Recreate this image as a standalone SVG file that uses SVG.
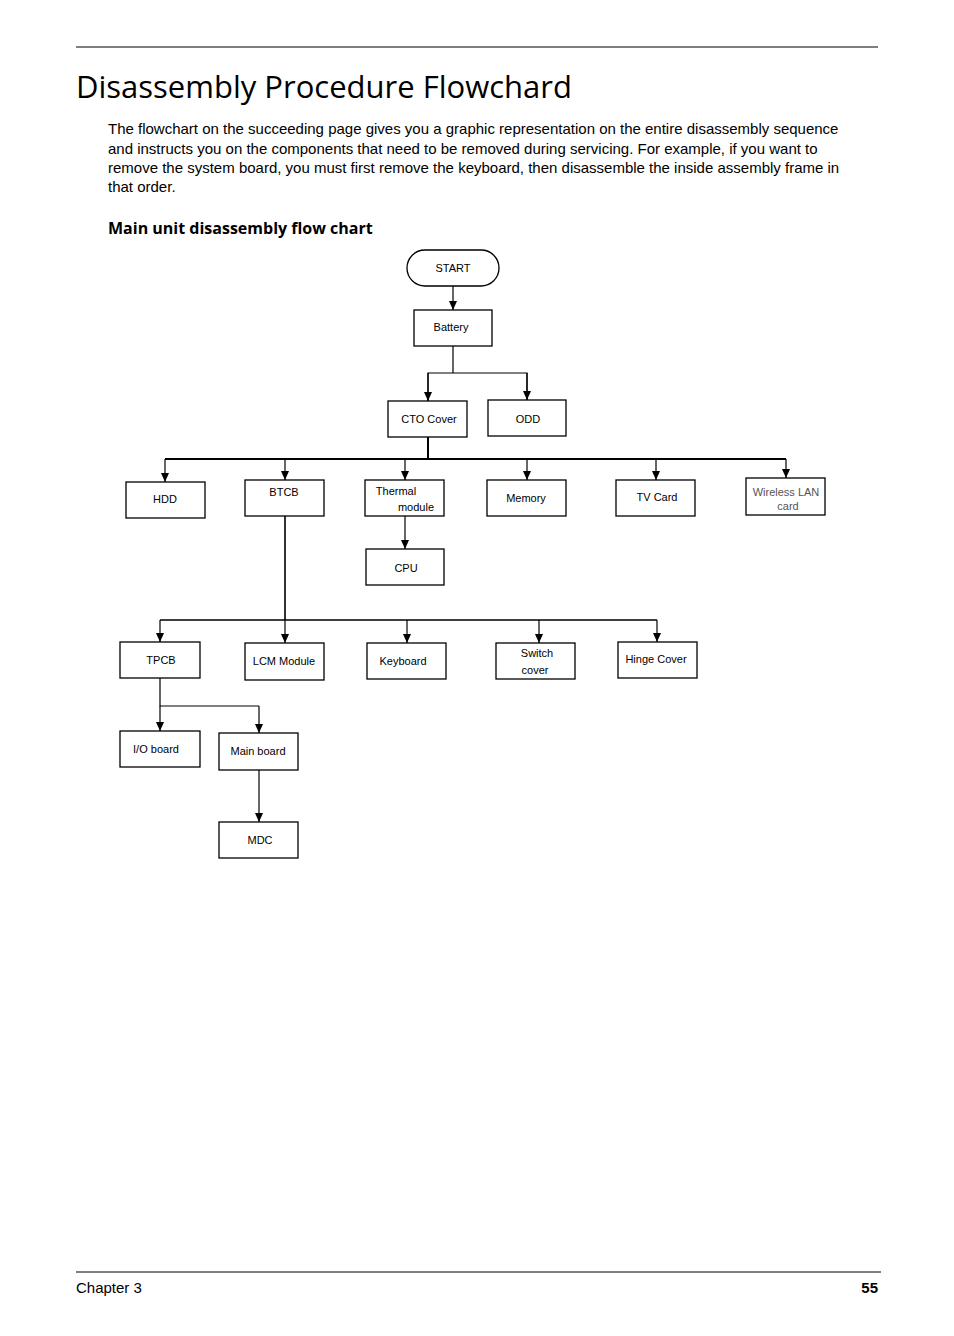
<svg xmlns="http://www.w3.org/2000/svg" width="954" height="1336" viewBox="0 0 954 1336">
<style>
.b{fill:#fff;stroke:#000;stroke-width:1.3}
.t{font-family:"Liberation Sans",Arial,sans-serif;font-size:11px;text-anchor:middle}
.c{fill:none;stroke:#000;stroke-width:1.2}
</style>
<defs><marker id="a" markerWidth="8" markerHeight="8" refX="4" refY="8" orient="auto" markerUnits="userSpaceOnUse"><path d="M0,0 L8,0 L4,8 Z" transform="rotate(-90 4 4)" fill="#000"/></marker>
<marker id="d" markerWidth="8" markerHeight="10" refX="4" refY="9" markerUnits="userSpaceOnUse" orient="0"><path d="M0,0 L8,0 L4,9 Z" fill="#000"/></marker></defs>
<rect width="954" height="1336" fill="#fff"/>
<line x1="76" y1="47" x2="878" y2="47" stroke="#000" stroke-width="1"/>
<text x="76" y="98" font-family="'Open Sans','Noto Sans',sans-serif" font-size="31">Disassembly Procedure Flowchard</text>
<g font-family="'Liberation Sans',Arial,sans-serif" font-size="15">
<text x="108" y="134">The flowchart on the succeeding page gives you a graphic representation on the entire disassembly sequence</text>
<text x="108" y="154">and instructs you on the components that need to be removed during servicing. For example, if you want to</text>
<text x="108" y="173">remove the system board, you must first remove the keyboard, then disassemble the inside assembly frame in</text>
<text x="108" y="192">that order.</text>
</g>
<text x="108" y="234" font-family="'Open Sans','Noto Sans',sans-serif" font-size="16" font-weight="bold">Main unit disassembly flow chart</text>
<g id="connectors" class="c">
<path d="M453 286V310" marker-end="url(#d)"/>
<path d="M453 346V373H428V401M453 373H527V400" />
<path d="M428 373V401" marker-end="url(#d)"/><path d="M527 373V400" marker-end="url(#d)"/>
<path d="M428 437V459M165 459H786" stroke-width="2"/>
<path d="M165 459V482" marker-end="url(#d)"/>
<path d="M285 459V480" marker-end="url(#d)"/>
<path d="M405 459V480" marker-end="url(#d)"/>
<path d="M527 459V480" marker-end="url(#d)"/>
<path d="M656 459V480" marker-end="url(#d)"/>
<path d="M786 459V478" marker-end="url(#d)"/>
<path d="M405 516V549" marker-end="url(#d)"/>
<path d="M285 516V620M160 620H657" stroke-width="1.6"/>
<path d="M160 620V642" marker-end="url(#d)"/>
<path d="M285 620V643" marker-end="url(#d)"/>
<path d="M407 620V643" marker-end="url(#d)"/>
<path d="M539 620V643" marker-end="url(#d)"/>
<path d="M657 620V642" marker-end="url(#d)"/>
<path d="M160 678V706H259"/>
<path d="M160 706V731" marker-end="url(#d)"/>
<path d="M259 706V733" marker-end="url(#d)"/>
<path d="M259 770V822" marker-end="url(#d)"/>
</g>
<g id="start"><rect class="b" x="407" y="250" width="92" height="36" rx="18"/><text class="t" x="453" y="272">START</text></g>
<g id="battery"><rect class="b" x="414" y="310" width="78" height="36"/><text class="t" x="451" y="331">Battery</text></g>
<g id="cto"><rect class="b" x="388" y="401" width="79" height="36"/><text class="t" x="429" y="423">CTO Cover</text></g>
<g id="odd"><rect class="b" x="488" y="400" width="78" height="36"/><text class="t" x="528" y="423">ODD</text></g>
<g id="hdd"><rect class="b" x="126" y="482" width="79" height="36"/><text class="t" x="165" y="503">HDD</text></g>
<g id="btcb"><rect class="b" x="245" y="480" width="79" height="36"/><text class="t" x="284" y="496">BTCB</text></g>
<g id="thermal"><rect class="b" x="365" y="480" width="79" height="36"/><text class="t" x="396" y="495">Thermal</text><text class="t" x="416" y="511">module</text></g>
<g id="memory"><rect class="b" x="487" y="480" width="79" height="36"/><text class="t" x="526" y="502">Memory</text></g>
<g id="tv"><rect class="b" x="616" y="480" width="79" height="36"/><text class="t" x="657" y="501">TV Card</text></g>
<g id="wlan"><rect class="b" x="746" y="478" width="79" height="37" stroke="#555"/><text class="t" x="786" y="496" fill="#555" font-size="10">Wireless LAN</text><text class="t" x="788" y="510" fill="#555" font-size="10">card</text></g>
<g id="cpu"><rect class="b" x="366" y="549" width="78" height="36"/><text class="t" x="406" y="572">CPU</text></g>
<g id="tpcb"><rect class="b" x="120" y="642" width="80" height="36"/><text class="t" x="161" y="664">TPCB</text></g>
<g id="lcm"><rect class="b" x="245" y="643" width="79" height="37"/><text class="t" x="284" y="665">LCM Module</text></g>
<g id="keyboard"><rect class="b" x="367" y="643" width="79" height="36"/><text class="t" x="403" y="665">Keyboard</text></g>
<g id="switch"><rect class="b" x="496" y="643" width="79" height="36"/><text class="t" x="537" y="657">Switch</text><text class="t" x="535" y="674">cover</text></g>
<g id="hinge"><rect class="b" x="618" y="642" width="79" height="36"/><text class="t" x="656" y="663">Hinge Cover</text></g>
<g id="io"><rect class="b" x="120" y="731" width="80" height="36"/><text class="t" x="156" y="753">I/O board</text></g>
<g id="main"><rect class="b" x="219" y="733" width="79" height="37"/><text class="t" x="258" y="755">Main board</text></g>
<g id="mdc"><rect class="b" x="219" y="822" width="79" height="36"/><text class="t" x="260" y="844">MDC</text></g>
<line x1="76" y1="1272" x2="881" y2="1272" stroke="#000" stroke-width="1"/>
<text x="76" y="1293" font-family="'Liberation Sans',Arial,sans-serif" font-size="15">Chapter 3</text>
<text x="878" y="1293" font-family="'Liberation Sans',Arial,sans-serif" font-size="15" font-weight="bold" text-anchor="end">55</text>
</svg>
